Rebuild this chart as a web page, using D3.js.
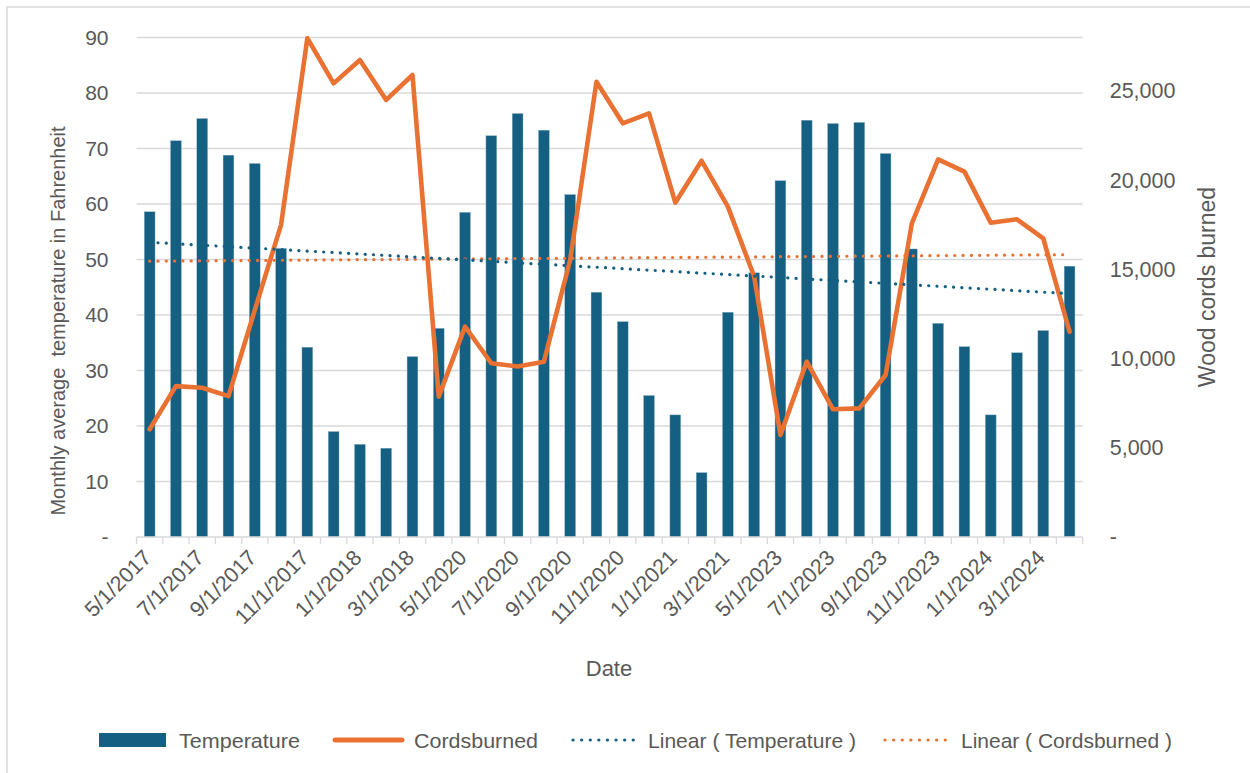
<!DOCTYPE html>
<html>
<head>
<meta charset="utf-8">
<script src="https://cdn.jsdelivr.net/npm/d3@7"></script>
<style>
  html, body { margin: 0; padding: 0; background: #fff; }
  svg { display: block; font-family: "Liberation Sans", Arial, sans-serif; }
</style>
</head>
<body>
<svg id="chart" width="1250" height="773"></svg>
<script>
// ---------- DATA ----------
const dates = [
  "5/1/2017","6/1/2017","7/1/2017","8/1/2017","9/1/2017","10/1/2017","11/1/2017","12/1/2017","1/1/2018","2/1/2018","3/1/2018","4/1/2018",
  "5/1/2020","6/1/2020","7/1/2020","8/1/2020","9/1/2020","10/1/2020","11/1/2020","12/1/2020","1/1/2021","2/1/2021","3/1/2021","4/1/2021",
  "5/1/2023","6/1/2023","7/1/2023","8/1/2023","9/1/2023","10/1/2023","11/1/2023","12/1/2023","1/1/2024","2/1/2024","3/1/2024","4/1/2024"
];
const temperature = [
  58.6, 71.4, 75.4, 68.8, 67.3, 52.0, 34.2, 19.0, 16.7, 16.0, 32.5, 37.6,
  58.5, 72.3, 76.3, 73.3, 61.7, 44.1, 38.8, 25.5, 22.0, 11.6, 40.5, 47.6,
  64.2, 75.1, 74.5, 74.7, 69.1, 51.9, 38.5, 34.3, 22.0, 33.2, 37.2, 48.8
];
const cordsburned = [
  6040, 8460, 8370, 7900, 12720, 17500, 27960, 25430, 26740, 24500, 25900, 7870,
  11790, 9740, 9560, 9830, 15530, 25520, 23190, 23750, 18740, 21090, 18520, 14600,
  5720, 9830, 7160, 7210, 9080, 17580, 21170, 20480, 17620, 17810, 16740, 11510
];
const leftTicks = [0, 10, 20, 30, 40, 50, 60, 70, 80, 90];
const rightTicks = [0, 5000, 10000, 15000, 20000, 25000];
const legendLabels = ["Temperature", "Cordsburned", "Linear ( Temperature )", "Linear ( Cordsburned )"];

// ---------- STYLE ----------
const BLUE = "#156082", ORANGE = "#E97132", GRID = "#d9d9d9", TXT = "#595959";

const svg = d3.select("#chart");
const X0 = 136.5, X1 = 1082.7, Y0 = 537, Y1 = 37.5;

// chart border
svg.append("rect").attr("x", 7).attr("y", 7).attr("width", 1400).attr("height", 900)
  .attr("fill", "none").attr("stroke", GRID).attr("stroke-width", 1.5);

const x = d3.scaleBand().domain(dates).range([X0, X1]).padding(0);
const yL = d3.scaleLinear().domain([0, 90]).range([Y0, Y1]);
const yR = d3.scaleLinear().domain([0, 28000]).range([Y0, Y1]);
const cx = d => x(d) + x.bandwidth() / 2;

// gridlines
svg.append("g").selectAll("line").data(leftTicks.slice(1)).join("line")
  .attr("x1", X0).attr("x2", X1)
  .attr("y1", d => yL(d)).attr("y2", d => yL(d))
  .attr("stroke", GRID).attr("stroke-width", 1.3);

// left axis labels
const fmtL = d => d === 0 ? "-" : d3.format("d")(d);
const gL = svg.append("g").attr("transform", `translate(${X0},0)`)
  .call(d3.axisLeft(yL).tickValues(leftTicks).tickFormat(fmtL).tickSize(0).tickPadding(28));
gL.select(".domain").remove();
gL.selectAll("text").attr("fill", TXT).style("font-size", "21px");

// right axis labels
const fmtR = d => d === 0 ? "-" : d3.format(",")(d);
const gR = svg.append("g").attr("transform", `translate(${X1},0)`)
  .call(d3.axisRight(yR).tickValues(rightTicks).tickFormat(fmtR).tickSize(0).tickPadding(27));
gR.select(".domain").remove();
gR.selectAll("text").attr("fill", TXT).style("font-size", "21.5px");

// bars
const bw = x.bandwidth() * 0.41;
svg.append("g").selectAll("rect").data(dates).join("rect")
  .attr("x", d => cx(d) - bw / 2)
  .attr("width", bw)
  .attr("y", (d, i) => yL(temperature[i]))
  .attr("height", (d, i) => Y0 - yL(temperature[i]))
  .attr("fill", BLUE)
  .attr("stroke", "#8fb3c6").attr("stroke-width", 0.4);

// bottom axis line and ticks (category boundaries)
svg.append("line").attr("x1", X0).attr("x2", X1).attr("y1", Y0).attr("y2", Y0)
  .attr("stroke", GRID).attr("stroke-width", 1.3);
const bounds = dates.map(d => x(d)).concat([X1]);
svg.append("g").selectAll("line").data(bounds).join("line")
  .attr("x1", d => d).attr("x2", d => d).attr("y1", Y0).attr("y2", Y0 + 7)
  .attr("stroke", GRID).attr("stroke-width", 1.3);

// x labels (every other)
const gX = svg.append("g").attr("transform", `translate(0,${Y0})`)
  .call(d3.axisBottom(x).tickValues(dates.filter((d, i) => i % 2 === 0)).tickSize(0).tickPadding(0));
gX.select(".domain").remove();
gX.selectAll("text")
  .attr("fill", TXT).style("font-size", "21.5px")
  .attr("text-anchor", "end")
  .attr("dy", null).attr("y", null)
  .attr("dominant-baseline", "central")
  .attr("transform", "translate(-2,17) rotate(-45)");

// trendlines (least squares on category index)
function linreg(vals) {
  const n = vals.length, xs = d3.range(1, n + 1);
  const mx = d3.mean(xs), my = d3.mean(vals);
  let sxy = 0, sxx = 0;
  xs.forEach((xi, i) => { sxy += (xi - mx) * (vals[i] - my); sxx += (xi - mx) ** 2; });
  const b = sxy / sxx, a = my - b * mx;
  return xi => a + b * xi;
}
const tT = linreg(temperature), tC = linreg(cordsburned);
const first = dates[0], last = dates[dates.length - 1];

svg.append("line")
  .attr("x1", cx(first)).attr("x2", cx(last))
  .attr("y1", yR(tC(1))).attr("y2", yR(tC(dates.length)))
  .attr("stroke", ORANGE).attr("stroke-width", 3.2).attr("stroke-linecap", "round")
  .attr("stroke-dasharray", "0.1 8.2");

// cords line
const line = d3.line().x((d, i) => cx(dates[i])).y(d => yR(d));
svg.append("path").datum(cordsburned)
  .attr("d", line).attr("fill", "none")
  .attr("stroke", ORANGE).attr("stroke-width", 4.6)
  .attr("stroke-linejoin", "round").attr("stroke-linecap", "round");

svg.append("line")
  .attr("x1", cx(first)).attr("x2", cx(last))
  .attr("y1", yL(tT(1))).attr("y2", yL(tT(dates.length)))
  .attr("stroke", BLUE).attr("stroke-width", 3.2).attr("stroke-linecap", "round")
  .attr("stroke-dasharray", "0.1 8.2");

// axis titles
svg.append("text").attr("transform", "translate(58,321) rotate(-90)")
  .attr("text-anchor", "middle").attr("dominant-baseline", "central")
  .attr("fill", TXT).style("font-size", "20px")
  .attr("xml:space", "preserve")
  .text("Monthly average  temperature in Fahrenheit");
svg.append("text").attr("transform", "translate(1207,287) rotate(-90)")
  .attr("text-anchor", "middle").attr("dominant-baseline", "central")
  .attr("fill", TXT).style("font-size", "23px")
  .text("Wood cords burned");
svg.append("text").attr("x", 609).attr("y", 668)
  .attr("text-anchor", "middle").attr("dominant-baseline", "central")
  .attr("fill", TXT).style("font-size", "22px")
  .text("Date");

// legend
const LY = 740;
const lg = svg.append("g");
lg.append("rect").attr("x", 99).attr("y", LY - 7).attr("width", 67).attr("height", 14).attr("fill", BLUE);
lg.append("line").attr("x1", 335).attr("x2", 402).attr("y1", LY).attr("y2", LY)
  .attr("stroke", ORANGE).attr("stroke-width", 5).attr("stroke-linecap", "round");
lg.append("line").attr("x1", 573).attr("x2", 641).attr("y1", LY).attr("y2", LY)
  .attr("stroke", BLUE).attr("stroke-width", 3.2).attr("stroke-linecap", "round")
  .attr("stroke-dasharray", "0.1 8.5");
lg.append("line").attr("x1", 885).attr("x2", 953).attr("y1", LY).attr("y2", LY)
  .attr("stroke", ORANGE).attr("stroke-width", 3.2).attr("stroke-linecap", "round")
  .attr("stroke-dasharray", "0.1 8.5");
const lx = [179, 414, 648, 961], lw = [121, 124, 208, 211];
lg.selectAll("text").data(legendLabels).join("text")
  .attr("x", (d, i) => lx[i]).attr("y", LY)
  .attr("dominant-baseline", "central")
  .attr("fill", TXT).style("font-size", "21px")
  .attr("textLength", (d, i) => lw[i]).attr("lengthAdjust", "spacingAndGlyphs")
  .text(d => d);
</script>
</body>
</html>
